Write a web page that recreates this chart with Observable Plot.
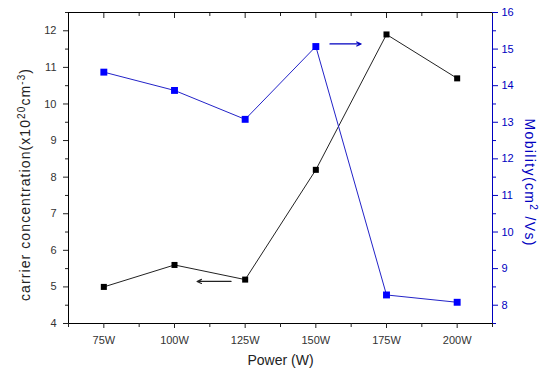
<!DOCTYPE html>
<html><head><meta charset="utf-8">
<script src="https://cdn.jsdelivr.net/npm/d3@7"></script>
<script src="https://cdn.jsdelivr.net/npm/@observablehq/plot@0.6"></script>
<style>body{margin:0;background:#fff}svg{display:block}</style>
</head><body><div id="chart"></div>
<script>
const powers = [75, 100, 125, 150, 175, 200];
const powerLabels = ["75W", "100W", "125W", "150W", "175W", "200W"];
const carrier = [5.0, 5.6, 5.2, 8.2, 11.9, 10.7];
const mobility = [14.37, 13.87, 13.08, 15.07, 8.28, 8.08];
const leftTicks = [4, 5, 6, 7, 8, 9, 10, 11, 12];
const rightTicks = [8, 9, 10, 11, 12, 13, 14, 15, 16];
// annotation arrows (x in W, y in each series' units)
const arrowCarrier = {x1: 120, x2: 108, y: 5.15};
const arrowMobility = {x1: 155, x2: 166, y: 15.14};

const leftDomain = [4, 12.5];
const rightDomain = [7.5, 16];
const toLeft = v => leftDomain[0] + (v - rightDomain[0]) * (leftDomain[1] - leftDomain[0]) / (rightDomain[1] - rightDomain[0]);
const toRight = v => rightDomain[0] + (v - leftDomain[0]) * (rightDomain[1] - rightDomain[0]) / (leftDomain[1] - leftDomain[0]);

const rows = powers.map((p, i) => ({p, c: carrier[i], m: mobility[i]}));
const xMajor = powers;
const xMinor = powers.map(p => p + 12.5);
const leftMinor = leftTicks.map(v => v + 0.5);
const rightMinor = rightTicks.map(v => v - 0.5);
const BLUE = "#0000c0";
const FONT = "Liberation Sans, Arial, sans-serif";

const plot = Plot.plot({
  width: 540, height: 372,
  marginLeft: 68, marginRight: 48, marginTop: 12, marginBottom: 49,
  style: {fontFamily: FONT, fontSize: "11px", color: "#222", background: "#fff"},
  x: {domain: [62.5, 212.5], axis: null},
  y: {domain: leftDomain, axis: null},
  marks: [
    // frame
    Plot.ruleY([leftDomain[0]], {stroke: "#000"}),
    Plot.ruleY([leftDomain[1]], {stroke: "#000"}),
    Plot.ruleX([62.5], {stroke: "#000"}),
    Plot.ruleX([212.5], {stroke: BLUE}),
    // bottom axis
    Plot.axisX({ticks: xMajor, tickSize: 5, tickPadding: 8, tickFormat: (d) => powerLabels[powers.indexOf(d)], label: null, fontSize: 11, letterSpacing: 0.7, fill: "#333"}),
    Plot.axisX({ticks: xMinor.concat([62.5]), tickSize: 4, tickFormat: () => "", label: null}),
    // top ticks (inward)
    Plot.axisX({anchor: "top", ticks: xMajor, tickSize: -5, tickFormat: () => "", label: null}),
    Plot.axisX({anchor: "top", ticks: xMinor, tickSize: -3, tickFormat: () => "", label: null}),
    // left axis
    Plot.axisY({ticks: leftTicks, tickSize: 5, tickPadding: 7, label: null, fontSize: 11, fill: "#333"}),
    Plot.axisY({ticks: leftMinor, tickSize: 3, tickFormat: () => "", label: null}),
    // right axis
    Plot.axisY({anchor: "right", ticks: rightTicks.map(toLeft), tickSize: 5, tickPadding: 4,
      tickFormat: d => String(Math.round(toRight(d))), label: null, color: BLUE, fontSize: 11}),
    Plot.axisY({anchor: "right", ticks: rightMinor.map(toLeft), tickSize: 3, tickFormat: () => "", label: null, color: BLUE}),
    // series
    Plot.line(rows, {x: "p", y: "c", stroke: "#222", strokeWidth: 1}),
    Plot.dot(rows, {x: "p", y: "c", symbol: "square", fill: "#000", r: 3.4}),
    Plot.line(rows, {x: "p", y: d => toLeft(d.m), stroke: "#2323c8", strokeWidth: 1}),
    Plot.dot(rows, {x: "p", y: d => toLeft(d.m), symbol: "square", fill: "#0000ff", r: 3.9}),
    // arrows
    Plot.arrow([arrowCarrier], {x1: "x1", x2: "x2", y1: "y", y2: "y", stroke: "#222", strokeWidth: 1.2, headLength: 6, headAngle: 50}),
    Plot.arrow([arrowMobility], {x1: "x1", x2: "x2", y1: d => toLeft(d.y), y2: d => toLeft(d.y), stroke: BLUE, strokeWidth: 1.2, headLength: 6, headAngle: 50}),
    // axis titles
    Plot.text(["carrier concentration(x10^20cm^-3)"], {frameAnchor: "left", textAnchor: "middle", dx: -43, dy: 17, rotate: -90, fontSize: 14, fill: "#222", className: "lbl-left"}),
    Plot.text(["Mobility(cm^2 /Vs)"], {frameAnchor: "right", textAnchor: "middle", dx: 37, dy: 14, rotate: 90, fontSize: 14, fill: BLUE, className: "lbl-right"}),
    Plot.text(["Power (W)"], {frameAnchor: "bottom", dy: 41, fontSize: 14, fill: "#222", letterSpacing: 1.3})
  ]
});
document.getElementById("chart").appendChild(plot);

// turn ^xx markers into superscript tspans, and stretch to the reference's text length
function supify(sel, len) {
  d3.select(plot).selectAll(sel + " text").each(function () {
    const t = d3.select(this);
    const s = t.text();
    t.text(null);
    const parts = s.split(/(\^-?\d+)/);
    parts.forEach(part => {
      if (!part) return;
      if (part[0] === "^") {
        t.append("tspan").attr("baseline-shift", "super").attr("font-size", "10px").text(part.slice(1));
      } else {
        t.append("tspan").text(part);
      }
    });
    t.attr("textLength", len).attr("lengthAdjust", "spacing");
  });
}
supify(".lbl-left", 232);
supify(".lbl-right", 127);
</script>
</body></html>
